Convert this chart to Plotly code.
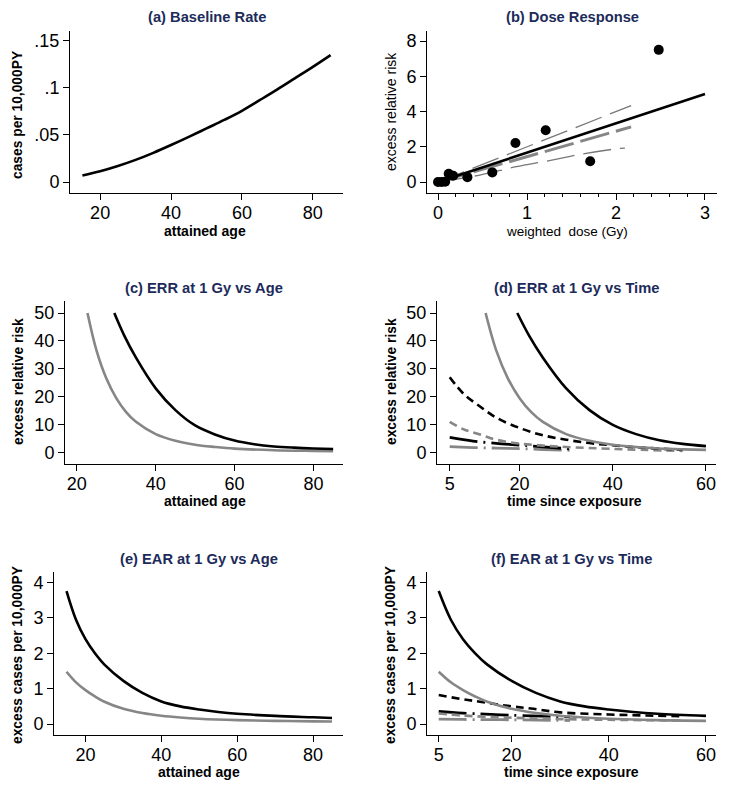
import plotly.graph_objects as go

W, H = 729, 791
OFF = 8  # default body margin of the html page
FW, FH = W - OFF, H - OFF

# (a) baseline rate
age_a = [15, 20, 25, 30, 35, 40, 45, 50, 55, 60, 65, 70, 75, 80, 85]
rate_a = [0.0070, 0.0114, 0.0170, 0.0235, 0.0310, 0.0393, 0.0480, 0.0570,
          0.0660, 0.0757, 0.0870, 0.0985, 0.1105, 0.1225, 0.1350]

# (b) dose response
dose_pts = [0.0, 0.04, 0.08, 0.12, 0.17, 0.33, 0.61, 0.87, 1.21, 1.71, 2.48]
err_pts = [0.0, 0.0, 0.02, 0.47, 0.36, 0.28, 0.55, 2.22, 2.94, 1.18, 7.50]
dose_fit = [0.0, 3.0]
err_fit = [0.0, 5.0]
dose_alt = [0.0, 2.17]
err_upper = [0.0, 4.34]
err_mid = [0.0, 3.13]
dose_low = [0.0, 0.47, 0.88, 1.22, 1.63, 2.04, 2.10]
err_low = [0.0, 0.40, 0.87, 1.19, 1.60, 1.91, 1.93]

# (c) ERR at 1 Gy vs age
age_c1 = [29.5, 32, 35, 40, 45, 50, 55, 60, 65, 70, 75, 80, 85]
err_c1 = [50, 42, 34, 23, 15.2, 9.7, 6.5, 4.3, 3.0, 2.2, 1.75, 1.45, 1.25]
age_c2 = [22.7, 25, 27.5, 30, 32.5, 35, 40, 45, 50, 55, 60, 70, 80, 85]
err_c2 = [50, 36.5, 26.5, 19.5, 14.5, 11, 6.6, 4.2, 2.8, 2.0, 1.4, 0.85, 0.6, 0.5]

# (d) ERR at 1 Gy vs time
t_d1 = [19.5, 22, 25, 30, 35, 40, 45, 50, 55, 60]
err_d1 = [50, 42, 34, 23, 15.2, 9.9, 6.6, 4.4, 3.1, 2.3]
t_d2 = [12.7, 15, 17.5, 20, 22.5, 25, 30, 35, 40, 45, 50, 55, 60]
err_d2 = [50, 36.5, 26.5, 19.5, 14.5, 11, 6.6, 4.2, 2.8, 2.0, 1.45, 1.15, 0.95]
t_d3 = [5, 8, 11.5, 15, 20, 25, 30, 35, 40, 47, 55]
err_d3 = [27, 21, 16.5, 12.5, 8.8, 6.2, 4.6, 3.4, 2.6, 1.7, 1.0]
t_d4 = [5, 8, 11.5, 15, 20, 25, 30, 40, 55]
err_d4 = [11, 8.3, 6.5, 4.6, 3.2, 2.5, 2.0, 1.3, 0.6]
t_d5 = [5, 10, 15, 20, 25, 31]
err_d5 = [5.4, 4.1, 3.3, 2.7, 2.0, 1.3]
t_d6 = [5, 10, 15, 20, 25, 31]
err_d6 = [2.1, 1.8, 1.6, 1.4, 1.1, 0.8]

# (e) EAR at 1 Gy vs age
age_e1 = [15, 17.5, 20, 22.5, 25, 30, 35, 40, 45, 50, 55, 60, 70, 80, 85]
ear_e1 = [3.76, 2.95, 2.40, 2.00, 1.68, 1.22, 0.88, 0.64, 0.50, 0.41, 0.34, 0.29, 0.23, 0.19, 0.17]
age_e2 = [15, 17.5, 20, 22.5, 25, 30, 35, 40, 45, 50, 60, 70, 80, 85]
ear_e2 = [1.48, 1.18, 0.96, 0.78, 0.63, 0.43, 0.31, 0.235, 0.185, 0.15, 0.11, 0.09, 0.075, 0.07]

# (f) EAR at 1 Gy vs time
t_f1 = [5, 7.5, 10, 12.5, 15, 20, 25, 30, 35, 40, 45, 50, 60]
ear_f1 = [3.76, 2.95, 2.40, 2.00, 1.68, 1.22, 0.88, 0.64, 0.50, 0.41, 0.34, 0.29, 0.23]
t_f2 = [5, 7.5, 10, 12.5, 15, 20, 25, 30, 35, 40, 50, 60]
ear_f2 = [1.48, 1.18, 0.96, 0.78, 0.63, 0.43, 0.31, 0.235, 0.185, 0.15, 0.11, 0.09]
t_f3 = [5, 10, 13.5, 20, 24, 30, 40, 48, 55]
ear_f3 = [0.82, 0.70, 0.63, 0.50, 0.44, 0.33, 0.27, 0.24, 0.22]
t_f4 = [5, 10, 20, 30, 40, 55]
ear_f4 = [0.30, 0.24, 0.18, 0.14, 0.12, 0.10]
t_f5 = [5, 10, 20, 32]
ear_f5 = [0.36, 0.31, 0.25, 0.20]
t_f6 = [5, 10, 20, 32]
ear_f6 = [0.14, 0.13, 0.12, 0.10]

BLACK = "black"
GRAY = "#868686"
NAVY = "#1c2b5a"
FONT = "Liberation Sans, Arial, sans-serif"


def px(x):
    return (x - OFF) / FW


def py(y):
    return 1 - (y - OFF) / FH


fig = go.Figure()


def line(x, y, ax, color, width=2.6, dash="solid", shape="spline"):
    fig.add_trace(go.Scatter(x=x, y=y, mode="lines", xaxis="x" + ax, yaxis="y" + ax,
                             line=dict(color=color, width=width, dash=dash, shape=shape),
                             showlegend=False, hoverinfo="skip"))


# (a)
line(age_a, rate_a, "", BLACK)
# (b)
line(dose_alt, err_upper, "2", "#777777", 1.3, "28px,9px", "linear")
line(dose_low, err_low, "2", "#777777", 1.3, "28px,9px")
line(dose_alt, err_mid, "2", GRAY, 3, "30px,7px", "linear")
line(dose_fit, err_fit, "2", BLACK, 2.6, "solid", "linear")
fig.add_trace(go.Scatter(x=dose_pts, y=err_pts, mode="markers", xaxis="x2", yaxis="y2",
                         marker=dict(color=BLACK, size=10), showlegend=False))
# (c)
line(age_c2, err_c2, "3", GRAY)
line(age_c1, err_c1, "3", BLACK)
# (d)
line(t_d6, err_d6, "4", GRAY, 2.8, "28px,6px,2px,6px")
line(t_d5, err_d5, "4", BLACK, 2.8, "28px,6px,2px,6px")
line(t_d4, err_d4, "4", GRAY, 2.6, "8px,5px")
line(t_d3, err_d3, "4", BLACK, 2.6, "8px,5px")
line(t_d2, err_d2, "4", GRAY)
line(t_d1, err_d1, "4", BLACK)
# (e)
line(age_e2, ear_e2, "5", GRAY)
line(age_e1, ear_e1, "5", BLACK)
# (f)
line(t_f6, ear_f6, "6", GRAY, 2.8, "28px,6px,2px,6px")
line(t_f5, ear_f5, "6", BLACK, 2.8, "28px,6px,2px,6px")
line(t_f4, ear_f4, "6", GRAY, 2.6, "8px,5px")
line(t_f3, ear_f3, "6", BLACK, 2.6, "8px,5px")
line(t_f2, ear_f2, "6", GRAY)
line(t_f1, ear_f1, "6", BLACK)

# panel boxes in pixels: (left, right, top, bottom), ranges, ticks
panels = [
    ("", (70, 343, 31, 193), [11.5, 88.5], [-0.0117, 0.1606], [20, 40, 60, 80],
     [0, 0.05, 0.1, 0.15], ["0", ".05", ".1", ".15"]),
    ("2", (427, 717, 31, 193), [-0.124, 3.135], [-0.62, 8.57], [0, 1, 2, 3],
     [0, 2, 4, 6, 8], None),
    ("3", (65, 343, 301, 464), [17.0, 87.5], [-4.1, 54.3], [20, 40, 60, 80],
     [0, 10, 20, 30, 40, 50], None),
    ("4", (437, 716, 301, 464), [2.27, 62.15], [-4.1, 54.3], [5, 20, 40, 60],
     [0, 10, 20, 30, 40, 50], None),
    ("5", (54, 343, 572, 735), [11.7, 87.9], [-0.31, 4.3], [20, 40, 60, 80],
     [0, 1, 2, 3, 4], None),
    ("6", (427, 716, 572, 735), [2.59, 62.06], [-0.31, 4.3], [5, 20, 40, 60],
     [0, 1, 2, 3, 4], None),
]

layout = {}
for ax, (l, r, t, b), xr, yr, xt, yt, ytt in panels:
    common = dict(showline=True, linecolor=BLACK, linewidth=1, ticks="outside", ticklen=6,
                  tickcolor=BLACK, showgrid=False, zeroline=False,
                  tickfont=dict(size=18, color=BLACK, family=FONT))
    xa = dict(common, domain=[px(l), px(r)], range=xr, tickvals=xt, anchor="y" + ax,
              ticklabelstandoff=-3)
    ya = dict(common, domain=[py(b), py(t)], range=yr, tickvals=yt, anchor="x" + ax)
    if ytt:
        ya["ticktext"] = ytt
    if ax == "2":
        xa["minor"] = dict(dtick=0.2, tick0=0, ticks="outside", ticklen=3, tickcolor=BLACK)
    layout["xaxis" + ax] = xa
    layout["yaxis" + ax] = ya

titles = [
    ("(a) Baseline Rate", 206.5, 17), ("(b) Dose Response", 572, 17),
    ("(c) ERR at 1 Gy vs Age", 204, 288), ("(d) ERR at 1 Gy vs Time", 576.5, 288),
    ("(e) EAR at 1 Gy vs Age", 198.5, 559), ("(f) EAR at 1 Gy vs Time", 571.5, 559),
]
xlabels = [
    ("attained age", 205, 231, True), ("weighted  dose (Gy)", 567, 231, False),
    ("attained age", 205, 501, True), ("time since exposure", 574, 501, True),
    ("attained age", 199, 772, True), ("time since exposure", 571.5, 772, True),
]
ylabels = [
    ("cases per 10,000PY", 17, 115, True), ("excess relative risk", 391, 112, False),
    ("excess relative risk", 18, 382, True), ("excess relative risk", 391, 382, True),
    ("excess cases per 10,000PY", 17, 655, True), ("excess cases per 10,000PY", 390, 655, True),
]

annotations = []
for text, x, y in titles:
    annotations.append(dict(text="<b>%s</b>" % text, x=px(x), y=py(y), xref="paper", yref="paper",
                            showarrow=False, xanchor="center", yanchor="middle",
                            font=dict(size=14.7, color=NAVY, family=FONT)))
for text, x, y, bold in xlabels:
    annotations.append(dict(text="<b>%s</b>" % text if bold else text.replace("  ", "&nbsp; "),
                            x=px(x), y=py(y), xref="paper", yref="paper",
                            showarrow=False, xanchor="center", yanchor="middle",
                            font=dict(size=14 if bold else 13.5, color=BLACK, family=FONT)))
for text, x, y, bold in ylabels:
    annotations.append(dict(text="<b>%s</b>" % text if bold else text, x=px(x), y=py(y),
                            xref="paper", yref="paper", textangle=-90,
                            showarrow=False, xanchor="center", yanchor="middle",
                            font=dict(size=13.8 if bold else 14, color=BLACK, family=FONT)))

fig.update_layout(
    width=FW, height=FH,
    margin=dict(l=0, r=0, t=0, b=0),
    paper_bgcolor="white", plot_bgcolor="white",
    font=dict(family=FONT, color=BLACK),
    annotations=annotations,
    **layout,
)

fig.write_html("out.html")
